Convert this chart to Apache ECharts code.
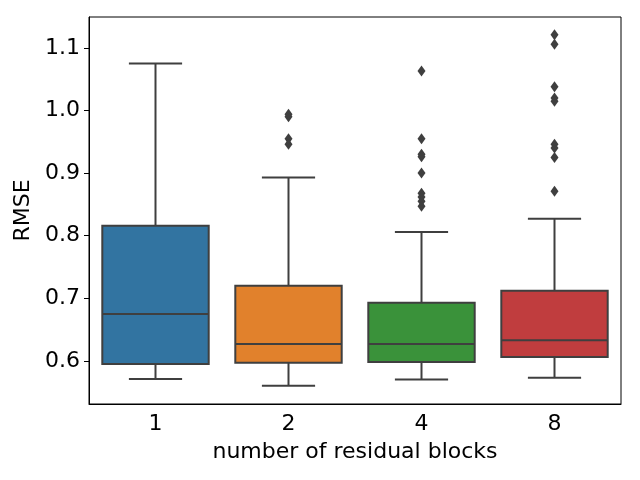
<!DOCTYPE html>
<html>
<head>
<meta charset="utf-8">
<script src="https://cdn.jsdelivr.net/npm/echarts@6/dist/echarts.min.js"></script>
<style>
  html, body { margin: 0; padding: 0; background: #fff; }
  #chart { width: 640px; height: 480px; }
</style>
</head>
<body>
<div id="chart"></div>
<script>
var categories = ['1', '2', '4', '8'];
var mins = [0.571, 0.560, 0.570, 0.573];
var q1s = [0.595, 0.597, 0.598, 0.606];
var medians = [0.675, 0.627, 0.627, 0.633];
var q3s = [0.816, 0.720, 0.693, 0.712];
var maxs = [1.075, 0.893, 0.806, 0.827];
var outliers1 = [];
var outliers2 = [0.990, 0.994, 0.955, 0.946];
var outliers4 = [1.063, 0.955, 0.930, 0.926, 0.900, 0.868, 0.862, 0.855, 0.847];
var outliers8 = [1.121, 1.106, 1.038, 1.020, 1.015, 0.946, 0.940, 0.925, 0.871];
var yTicks = [0.6, 0.7, 0.8, 0.9, 1.0, 1.1];
var colors = ['#3274a1', '#e1812c', '#3a923a', '#c03d3e'];

var lineColor = '#3f3f3f';
var font = 'DejaVu Sans';

var boxData = categories.map(function(c, i) {
  return [i, mins[i], q1s[i], medians[i], q3s[i], maxs[i]];
});
var outlierData = [];
[outliers1, outliers2, outliers4, outliers8].forEach(function(list, i) {
  list.forEach(function(v) { outlierData.push([i, v]); });
});

var chart = echarts.init(document.getElementById('chart'), null, { renderer: 'canvas' });
chart.setOption({
  animation: false,
  backgroundColor: '#fff',
  grid: {
    left: 89, right: 19, top: 17, bottom: 76,
    containLabel: false, outerBoundsMode: 'none',
    show: true, borderColor: '#000', borderWidth: 1
  },
  xAxis: {
    type: 'category',
    data: categories,
    name: 'number of residual blocks',
    nameLocation: 'middle',
    nameGap: 37,
    nameTextStyle: { fontFamily: font, fontSize: 22, color: '#000' },
    axisLine: { lineStyle: { color: '#000', width: 1 } },
    axisTick: { alignWithLabel: true, length: 5, lineStyle: { color: '#000' } },
    axisLabel: { fontFamily: font, fontSize: 22, color: '#000', margin: 9 },
    splitLine: { show: false }
  },
  yAxis: {
    type: 'value',
    min: 0.531,
    max: 1.1495,
    name: 'RMSE',
    nameLocation: 'middle',
    nameGap: 50,
    nameTextStyle: { fontFamily: font, fontSize: 22, color: '#000' },
    axisLine: { show: true, lineStyle: { color: '#000', width: 1 } },
    axisTick: { show: true, length: 5, lineStyle: { color: '#000' }, customValues: yTicks },
    axisLabel: {
      fontFamily: font, fontSize: 22, color: '#000', margin: 9,
      customValues: yTicks,
      formatter: function(v) { return v.toFixed(1); }
    },
    splitLine: { show: false }
  },
  series: [
    {
      type: 'custom',
      data: boxData,
      encode: { x: 0, y: [1, 2, 3, 4, 5] },
      renderItem: function(params, api) {
        var idx = api.value(0);
        var bw = api.size([1, 0])[0] * 0.8;
        var pMin = api.coord([idx, api.value(1)]);
        var pQ1 = api.coord([idx, api.value(2)]);
        var pMed = api.coord([idx, api.value(3)]);
        var pQ3 = api.coord([idx, api.value(4)]);
        var pMax = api.coord([idx, api.value(5)]);
        var cx = pMed[0];
        var stroke = { stroke: lineColor, lineWidth: 2 };
        return {
          type: 'group',
          children: [
            { type: 'line', shape: { x1: cx, y1: pQ1[1], x2: cx, y2: pMin[1] }, style: stroke },
            { type: 'line', shape: { x1: cx, y1: pQ3[1], x2: cx, y2: pMax[1] }, style: stroke },
            { type: 'line', shape: { x1: cx - bw / 4, y1: pMin[1], x2: cx + bw / 4, y2: pMin[1] }, style: stroke },
            { type: 'line', shape: { x1: cx - bw / 4, y1: pMax[1], x2: cx + bw / 4, y2: pMax[1] }, style: stroke },
            {
              type: 'rect',
              shape: { x: cx - bw / 2, y: pQ3[1], width: bw, height: pQ1[1] - pQ3[1] },
              style: { fill: colors[idx], stroke: lineColor, lineWidth: 2 }
            },
            { type: 'line', shape: { x1: cx - bw / 2, y1: pMed[1], x2: cx + bw / 2, y2: pMed[1] }, style: stroke }
          ]
        };
      }
    },
    {
      type: 'scatter',
      data: outlierData,
      symbol: 'diamond',
      symbolSize: [8, 11],
      itemStyle: { color: lineColor, opacity: 1 }
    }
  ]
});
</script>
</body>
</html>
